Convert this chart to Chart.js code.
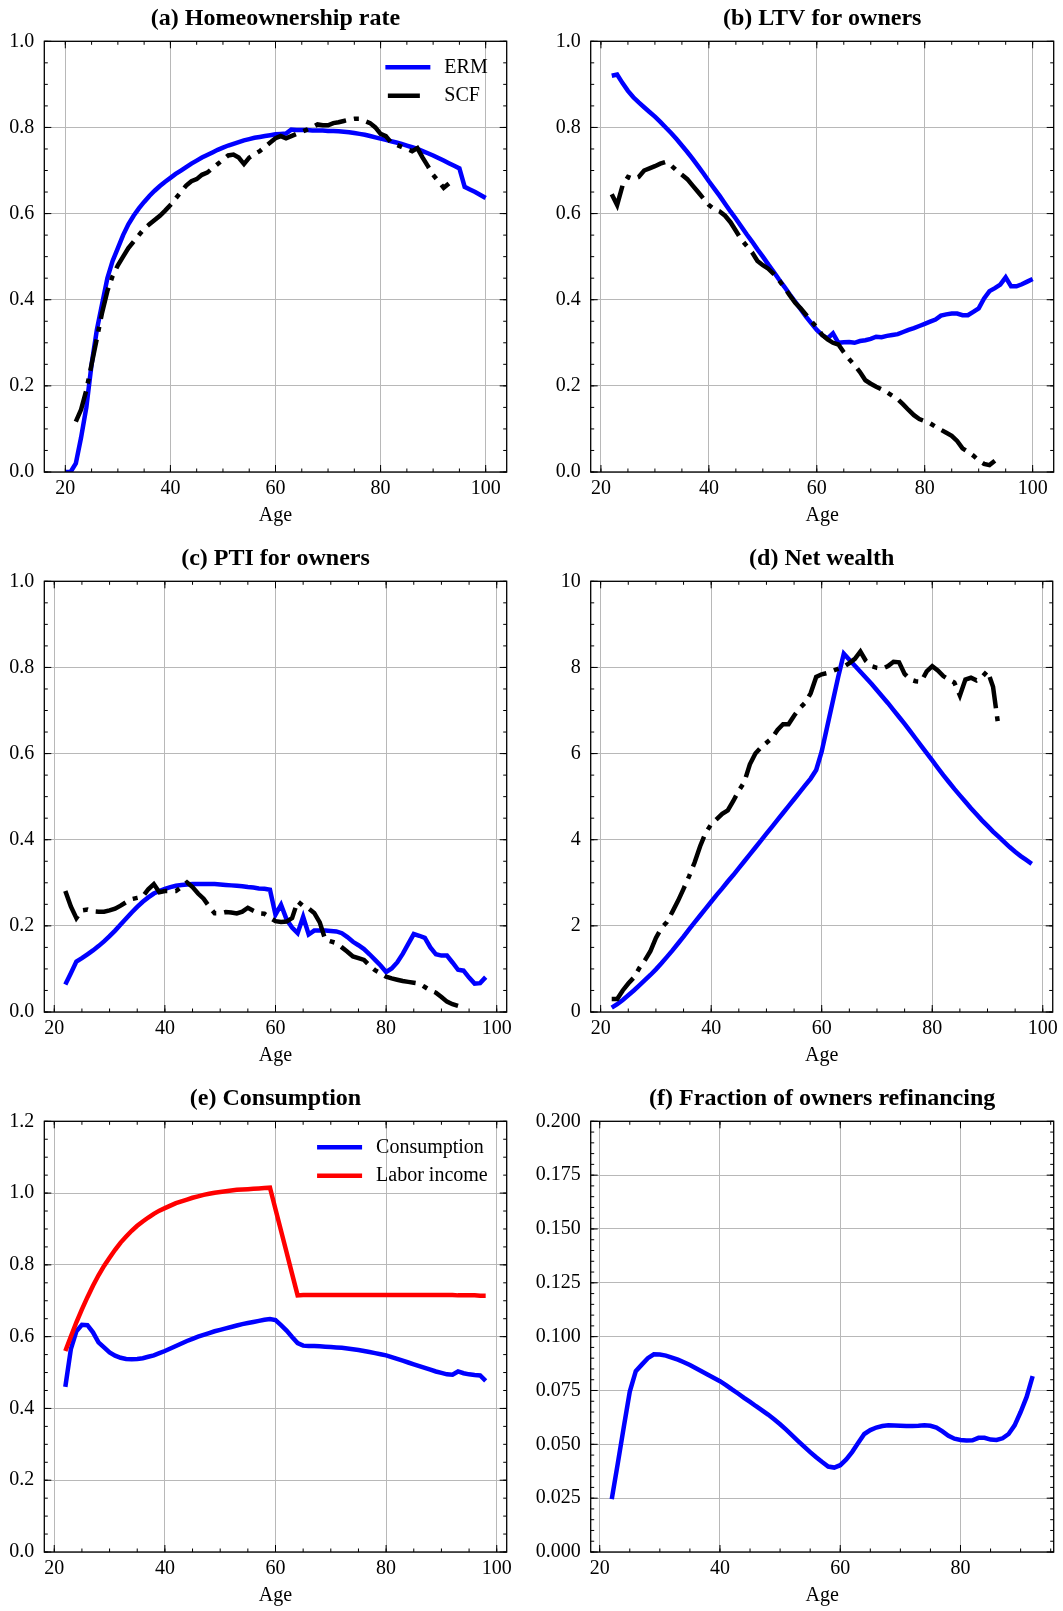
<!DOCTYPE html>
<html>
<head>
<meta charset="utf-8">
<script src="https://cdn.jsdelivr.net/npm/chart.js@4.4.1/dist/chart.umd.min.js"></script>
<style>
  html, body { margin: 0; padding: 0; background: #fff; }
  #page { position: relative; width: 1063px; height: 1611px; overflow: hidden; background: #fff; }
  .panel { position: absolute; }
</style>
</head>
<body>
<div id="page">
  <canvas id="chartA" class="panel" width="531" height="528" style="left:0;top:0"></canvas>
  <canvas id="chartB" class="panel" width="532" height="528" style="left:531px;top:0"></canvas>
  <canvas id="chartC" class="panel" width="531" height="528" style="left:0;top:540px"></canvas>
  <canvas id="chartD" class="panel" width="532" height="528" style="left:531px;top:540px"></canvas>
  <canvas id="chartE" class="panel" width="531" height="528" style="left:0;top:1080px"></canvas>
  <canvas id="chartF" class="panel" width="532" height="528" style="left:531px;top:1080px"></canvas>
</div>
<script>
(() => {
  'use strict';

  // ---- data (one value per year of age, first age given separately) ----
  const ageTicks = [20, 40, 60, 80, 100];
  const ageTicksRefi = [20, 40, 60, 80];
  const shareTicks = [0, 0.2, 0.4, 0.6, 0.8, 1.0];
  const consTicks = [0, 0.2, 0.4, 0.6, 0.8, 1.0, 1.2];
  const wealthTicks = [0, 2, 4, 6, 8, 10];
  const refiTicks = [0, 0.025, 0.05, 0.075, 0.1, 0.125, 0.15, 0.175, 0.2];

  // (a) homeownership rate
  const homeErmStart = 20;
  const homeErm = [
    0.00, 0.00, 0.02, 0.08, 0.15, 0.25, 0.33, 0.39, 0.45, 0.49,
    0.52, 0.55, 0.575, 0.595, 0.612, 0.627, 0.641, 0.653, 0.664, 0.674,
    0.683, 0.692, 0.700, 0.708, 0.716, 0.723, 0.730, 0.736, 0.742, 0.748,
    0.753, 0.758, 0.762, 0.766, 0.770, 0.773, 0.776, 0.778, 0.780, 0.782,
    0.784, 0.785, 0.786, 0.795, 0.794, 0.794, 0.794, 0.793, 0.793, 0.793,
    0.792, 0.792, 0.791, 0.790, 0.789, 0.787, 0.785, 0.783, 0.780, 0.777,
    0.774, 0.771, 0.768, 0.765, 0.762, 0.758, 0.754, 0.750, 0.745, 0.740,
    0.735, 0.729, 0.723, 0.717, 0.711, 0.705, 0.662, 0.656, 0.650, 0.643, 0.636,
  ];
  const homeScfStart = 22;
  const homeScf = [
    0.117, 0.145, 0.19, 0.25, 0.31, 0.37, 0.42, 0.455,
    0.48, 0.50, 0.52, 0.535, 0.55, 0.565, 0.575, 0.585, 0.595, 0.607,
    0.62, 0.635, 0.65, 0.665, 0.675, 0.68, 0.69, 0.695, 0.705, 0.715,
    0.725, 0.735, 0.737, 0.73, 0.715, 0.73, 0.738, 0.745, 0.755, 0.765,
    0.775, 0.78, 0.775, 0.78, 0.785, 0.79, 0.795, 0.80, 0.807, 0.805,
    0.805, 0.81, 0.812, 0.815, 0.818, 0.82, 0.82, 0.815, 0.81, 0.80,
    0.785, 0.78, 0.765, 0.76, 0.755, 0.75, 0.745, 0.752, 0.73, 0.71,
    0.69, 0.675, 0.66, 0.67,
  ];

  // (b) LTV for owners
  const ltvErmStart = 22;
  const ltvErm = [
    0.920, 0.923, 0.903, 0.885, 0.870, 0.858, 0.847, 0.836,
    0.825, 0.813, 0.800, 0.787, 0.773, 0.758, 0.743, 0.727, 0.710, 0.693,
    0.675, 0.658, 0.641, 0.623, 0.605, 0.588, 0.570, 0.552, 0.535, 0.517,
    0.500, 0.482, 0.465, 0.447, 0.430, 0.412, 0.395, 0.378, 0.361, 0.345,
    0.330, 0.318, 0.310, 0.322, 0.300, 0.301, 0.302, 0.300, 0.304, 0.306,
    0.309, 0.314, 0.313, 0.316, 0.318, 0.320, 0.325, 0.330, 0.334, 0.339,
    0.344, 0.349, 0.354, 0.363, 0.366, 0.368, 0.368, 0.364, 0.364, 0.372,
    0.380, 0.403, 0.420, 0.427, 0.435, 0.452, 0.431, 0.431, 0.436, 0.442, 0.448,
  ];
  const ltvScfStart = 22;
  const ltvScf = [
    0.645, 0.620, 0.665, 0.685, 0.680, 0.685, 0.700, 0.705,
    0.710, 0.716, 0.720, 0.712, 0.700, 0.690, 0.680, 0.665, 0.650, 0.635,
    0.620, 0.610, 0.605, 0.595, 0.580, 0.560, 0.540, 0.525, 0.510, 0.490,
    0.480, 0.472, 0.460, 0.445, 0.428, 0.410, 0.393, 0.380, 0.365, 0.350,
    0.336, 0.318, 0.308, 0.300, 0.296, 0.278, 0.262, 0.248, 0.232, 0.213,
    0.205, 0.198, 0.192, 0.185, 0.177, 0.169, 0.157, 0.144, 0.132, 0.123,
    0.118, 0.113, 0.105, 0.098, 0.091, 0.084, 0.072, 0.055, 0.047, 0.038,
    0.027, 0.019, 0.016, 0.026,
  ];

  // (c) PTI for owners
  const ptiErmStart = 22;
  const ptiErm = [
    0.064, 0.090, 0.117, 0.125, 0.134, 0.143, 0.153, 0.164,
    0.176, 0.189, 0.203, 0.217, 0.231, 0.244, 0.256, 0.266, 0.275, 0.281,
    0.286, 0.290, 0.293, 0.295, 0.296, 0.297, 0.297, 0.297, 0.297, 0.297,
    0.296, 0.295, 0.294, 0.293, 0.292, 0.290, 0.289, 0.287, 0.286, 0.284,
    0.226, 0.249, 0.215, 0.196, 0.183, 0.221, 0.180, 0.189, 0.189, 0.189,
    0.188, 0.187, 0.183, 0.174, 0.163, 0.155, 0.146, 0.134, 0.121, 0.108,
    0.093, 0.101, 0.115, 0.135, 0.158, 0.181, 0.177, 0.172, 0.150, 0.134,
    0.131, 0.131, 0.115, 0.098, 0.096, 0.080, 0.066, 0.067, 0.081,
  ];
  const ptiScfStart = 22;
  const ptiScf = [
    0.281, 0.245, 0.218, 0.236, 0.238, 0.234, 0.233, 0.233,
    0.236, 0.240, 0.247, 0.255, 0.262, 0.265, 0.268, 0.285, 0.297, 0.278,
    0.281, 0.281, 0.281, 0.290, 0.301, 0.290, 0.275, 0.263, 0.245, 0.229,
    0.229, 0.232, 0.231, 0.229, 0.233, 0.242, 0.235, 0.229, 0.228, 0.219,
    0.211, 0.209, 0.210, 0.218, 0.257, 0.246, 0.240, 0.230, 0.208, 0.168,
    0.164, 0.160, 0.150, 0.140, 0.129, 0.125, 0.121, 0.108, 0.097, 0.090,
    0.082, 0.078, 0.075, 0.072, 0.070, 0.068, 0.066, 0.058, 0.050, 0.045,
    0.035, 0.024, 0.018, 0.014,
  ];

  // (d) net wealth
  const wealthErmStart = 22;
  const wealthErm = [
    0.10, 0.18, 0.28, 0.39, 0.50, 0.62, 0.74, 0.86,
    0.99, 1.13, 1.28, 1.43, 1.59, 1.75, 1.92, 2.08, 2.24, 2.40,
    2.56, 2.72, 2.87, 3.03, 3.18, 3.34, 3.50, 3.66, 3.82, 3.98,
    4.14, 4.30, 4.46, 4.62, 4.78, 4.94, 5.10, 5.26, 5.42, 5.62,
    6.05, 6.63, 7.21, 7.79, 8.32, 8.18, 8.04, 7.90, 7.76, 7.62,
    7.47, 7.32, 7.17, 7.01, 6.85, 6.69, 6.52, 6.35, 6.18, 6.01,
    5.84, 5.67, 5.50, 5.34, 5.18, 5.03, 4.88, 4.73, 4.59, 4.45,
    4.32, 4.19, 4.07, 3.95, 3.83, 3.72, 3.62, 3.53, 3.44,
  ];
  const wealthScfStart = 22;
  const wealthScf = [
    0.30, 0.30, 0.50, 0.66, 0.80, 1.02, 1.20, 1.41,
    1.72, 1.95, 2.09, 2.33, 2.58, 2.86, 3.15, 3.47, 3.85, 4.16,
    4.36, 4.48, 4.60, 4.68, 4.90, 5.14, 5.34, 5.75, 6.00, 6.14,
    6.25, 6.36, 6.55, 6.68, 6.68, 6.88, 7.05, 7.18, 7.40, 7.78,
    7.84, 7.87, 7.92, 7.97, 8.02, 8.10, 8.20, 8.37, 8.15, 8.03,
    7.99, 7.97, 8.03, 8.13, 8.12, 7.85, 7.72, 7.68, 7.67, 7.91,
    8.03, 7.93, 7.80, 7.72, 7.65, 7.35, 7.72, 7.76, 7.70, 7.78,
    7.92, 7.55, 6.60,
  ];

  // (e) consumption and labor income
  const consStart = 22;
  const consumption = [
    0.460, 0.565, 0.615, 0.633, 0.632, 0.612, 0.584, 0.570,
    0.556, 0.547, 0.541, 0.538, 0.537, 0.538, 0.540, 0.544, 0.548, 0.554,
    0.560, 0.567, 0.574, 0.581, 0.588, 0.594, 0.600, 0.605, 0.610, 0.615,
    0.619, 0.623, 0.627, 0.631, 0.635, 0.638, 0.641, 0.644, 0.647, 0.649,
    0.646, 0.632, 0.617, 0.599, 0.582, 0.575, 0.574, 0.574, 0.573, 0.572,
    0.571, 0.570, 0.569, 0.567, 0.565, 0.563, 0.560, 0.557, 0.554, 0.551,
    0.548, 0.543, 0.538, 0.533, 0.528, 0.523, 0.518, 0.513, 0.508, 0.503,
    0.499, 0.495, 0.494, 0.503, 0.498, 0.495, 0.493, 0.492, 0.477,
  ];
  const laborIncome = [
    0.560, 0.600, 0.640, 0.676, 0.710, 0.742, 0.771, 0.797,
    0.820, 0.842, 0.862, 0.879, 0.895, 0.909, 0.921, 0.932, 0.942, 0.951,
    0.958, 0.965, 0.972, 0.977, 0.982, 0.987, 0.991, 0.995, 0.998, 1.001,
    1.003, 1.005, 1.007, 1.009, 1.010, 1.011, 1.012, 1.013, 1.014, 1.015,
    0.955, 0.895, 0.835, 0.775, 0.715, 0.716, 0.716, 0.716, 0.716, 0.716,
    0.716, 0.716, 0.716, 0.716, 0.716, 0.716, 0.716, 0.716, 0.716, 0.716,
    0.716, 0.716, 0.716, 0.716, 0.716, 0.716, 0.716, 0.716, 0.716, 0.716,
    0.716, 0.716, 0.716, 0.715, 0.715, 0.715, 0.715, 0.714, 0.714,
  ];

  // (f) fraction of owners refinancing
  const refiStart = 22;
  const refinancing = [
    0.0245, 0.041, 0.058, 0.0745, 0.0840, 0.0870, 0.0900, 0.0918,
    0.0917, 0.0912, 0.0903, 0.0893, 0.0881, 0.0868, 0.0853, 0.0838, 0.0823, 0.0808,
    0.0793, 0.0775, 0.0755, 0.0736, 0.0716, 0.0697, 0.0677, 0.0658, 0.0638, 0.0616,
    0.0593, 0.0568, 0.0542, 0.0515, 0.0489, 0.0464, 0.0440, 0.0418, 0.0397, 0.0392,
    0.0403, 0.0430, 0.0465, 0.0507, 0.0548, 0.0566, 0.0578, 0.0585, 0.0588, 0.0587,
    0.0586, 0.0585, 0.0585, 0.0586, 0.0588, 0.0586, 0.0578, 0.0560, 0.0540, 0.0526,
    0.0520, 0.0518, 0.0519, 0.0530, 0.0530, 0.0522, 0.0520, 0.0528, 0.0548, 0.0588,
    0.0650, 0.0720, 0.0817,
  ];

  // ---- styling ----
  const SERIF = "'Liberation Serif', 'Times New Roman', 'DejaVu Serif', serif";
  const GRID = '#b8b8b8';
  const BLUE = '#0000ff';
  const RED = '#ff0000';
  const DASHDOT = [32, 8, 5, 8];

  const byAge = (start, values) => values.map((v, i) => ({ x: start + i, y: v }));

  const solid = (label, color, start, values, order) => ({
    label, data: byAge(start, values), borderColor: color, borderWidth: 4.5,
    pointRadius: 0, tension: 0, fill: false, clip: 0, borderCapStyle: 'butt', order,
  });
  const dashdot = (label, start, values, order) => ({
    label, data: byAge(start, values), borderColor: '#000', borderWidth: 4.5,
    borderDash: DASHDOT, pointRadius: 0, tension: 0, fill: false, clip: 0,
    borderCapStyle: 'butt', order,
  });

  // Inward ticks on all four sides plus the black frame
  const frameTicks = {
    id: 'frameTicks',
    afterDatasetsDraw(chart, args, opts) {
      const { ctx, chartArea: { left, right, top, bottom }, scales: { x, y } } = chart;
      ctx.save();
      ctx.strokeStyle = '#000';
      ctx.lineWidth = 1;
      const mark = (scale, v, len) => {
        const p = scale.getPixelForValue(v);
        ctx.beginPath();
        if (scale.isHorizontal()) {
          ctx.moveTo(p, bottom); ctx.lineTo(p, bottom - len);
          ctx.moveTo(p, top); ctx.lineTo(p, top + len);
        } else {
          ctx.moveTo(left, p); ctx.lineTo(left + len, p);
          ctx.moveTo(right, p); ctx.lineTo(right - len, p);
        }
        ctx.stroke();
      };
      [[x, opts.xMinor], [y, opts.yMinor]].forEach(([s, step]) => {
        for (let i = Math.ceil(s.min / step - 1e-9); i * step <= s.max + 1e-9; i++) {
          mark(s, i * step, 3.5);
        }
        s.ticks.forEach(t => mark(s, t.value, 7));
      });
      ctx.lineWidth = 1.3;
      ctx.strokeRect(left, top, right - left, bottom - top);
      ctx.restore();
    },
  };

  // Frameless legend in the upper right of the plot area
  const insideLegend = {
    id: 'insideLegend',
    afterDraw(chart, args, opts) {
      if (!opts.items) return;
      const { ctx, chartArea } = chart;
      const items = opts.items.map(i => chart.data.datasets[i]);
      ctx.save();
      ctx.font = `20px ${SERIF}`;
      const w = Math.max(...items.map(d => ctx.measureText(d.label).width));
      const tx = chartArea.right - 19 - w;
      items.forEach((d, i) => {
        const yy = chartArea.top + 26 + i * 28.5;
        ctx.strokeStyle = d.borderColor;
        ctx.lineWidth = d.borderWidth;
        ctx.lineCap = 'butt';
        ctx.beginPath();
        if (d.borderDash) {
          // dash-dot handle only shows its first long dash
          ctx.moveTo(tx - 56.5, yy);
          ctx.lineTo(tx - 56.5 + d.borderDash[0], yy);
        } else {
          ctx.moveTo(tx - 59, yy);
          ctx.lineTo(tx - 14, yy);
        }
        ctx.stroke();
        ctx.fillStyle = '#000';
        ctx.textAlign = 'left';
        ctx.textBaseline = 'middle';
        ctx.fillText(d.label, tx, yy);
      });
      ctx.restore();
    },
  };

  function makePanel(id, cfg) {
    return new Chart(document.getElementById(id), {
      type: 'line',
      data: { datasets: cfg.datasets },
      options: {
        responsive: false,
        animation: false,
        devicePixelRatio: 1,
        events: [],
        layout: { padding: { left: 0, right: cfg.padRight, top: 0, bottom: 0 } },
        plugins: {
          legend: { display: false },
          tooltip: { enabled: false },
          title: {
            display: true, text: cfg.title, color: '#000', fullSize: false,
            font: { family: SERIF, size: 24, weight: 'bold', lineHeight: 1.2 },
            padding: { top: 4.1, bottom: 8.4 },
          },
          frameTicks: { xMinor: 5, yMinor: cfg.yMinor },
          insideLegend: { items: cfg.legend || null },
        },
        scales: {
          x: {
            type: 'linear', min: cfg.xMin, max: cfg.xMax,
            afterBuildTicks: s => { s.ticks = cfg.xTicks.map(v => ({ value: v })); },
            afterFit: s => { s.height = 56; },
            grid: { color: GRID, lineWidth: 1, drawTicks: false },
            border: { display: false },
            ticks: {
              color: '#000', font: { family: SERIF, size: 20 }, padding: 5,
              maxRotation: 0, autoSkip: false, callback: v => String(v),
            },
            title: {
              display: true, text: 'Age', color: '#000', padding: 0,
              font: { family: SERIF, size: 20, lineHeight: 1.2 },
            },
          },
          y: {
            type: 'linear', min: cfg.yTicks[0], max: cfg.yTicks[cfg.yTicks.length - 1],
            afterBuildTicks: s => { s.ticks = cfg.yTicks.map(v => ({ value: v })); },
            afterFit: s => { s.width = cfg.yWidth; },
            grid: { color: GRID, lineWidth: 1, drawTicks: false },
            border: { display: false },
            ticks: {
              color: '#000', font: { family: SERIF, size: 20 }, padding: 10,
              autoSkip: false, callback: v => v.toFixed(cfg.decimals),
            },
          },
        },
      },
      plugins: [frameTicks, insideLegend],
    });
  }

  const left = { yWidth: 44.3, padRight: 24.3 };
  const right = { yWidth: 59.7, padRight: 9.3 };

  makePanel('chartA', {
    ...left, title: '(a) Homeownership rate', xMin: 16, xMax: 104, xTicks: ageTicks,
    yTicks: shareTicks, yMinor: 0.05, decimals: 1, legend: [0, 1],
    datasets: [solid('ERM', BLUE, homeErmStart, homeErm, 1), dashdot('SCF', homeScfStart, homeScf, 0)],
  });
  makePanel('chartB', {
    ...right, title: '(b) LTV for owners', xMin: 18.1, xMax: 103.9, xTicks: ageTicks,
    yTicks: shareTicks, yMinor: 0.05, decimals: 1,
    datasets: [solid('ERM', BLUE, ltvErmStart, ltvErm, 1), dashdot('SCF', ltvScfStart, ltvScf, 0)],
  });
  makePanel('chartC', {
    ...left, title: '(c) PTI for owners', xMin: 18.2, xMax: 101.8, xTicks: ageTicks,
    yTicks: shareTicks, yMinor: 0.05, decimals: 1,
    datasets: [solid('ERM', BLUE, ptiErmStart, ptiErm, 1), dashdot('SCF', ptiScfStart, ptiScf, 0)],
  });
  makePanel('chartD', {
    ...right, title: '(d) Net wealth', xMin: 18.2, xMax: 101.8, xTicks: ageTicks,
    yTicks: wealthTicks, yMinor: 0.5, decimals: 0,
    datasets: [solid('ERM', BLUE, wealthErmStart, wealthErm, 1), dashdot('SCF', wealthScfStart, wealthScf, 0)],
  });
  makePanel('chartE', {
    ...left, title: '(e) Consumption', xMin: 18.2, xMax: 101.8, xTicks: ageTicks,
    yTicks: consTicks, yMinor: 0.05, decimals: 1, legend: [0, 1],
    datasets: [solid('Consumption', BLUE, consStart, consumption, 1), solid('Labor income', RED, consStart, laborIncome, 0)],
  });
  makePanel('chartF', {
    ...right, title: '(f) Fraction of owners refinancing', xMin: 18.5, xMax: 95.5, xTicks: ageTicksRefi,
    yTicks: refiTicks, yMinor: 0.005, decimals: 3,
    datasets: [solid('Refinancing', BLUE, refiStart, refinancing, 0)],
  });
})();
</script>
</body>
</html>
